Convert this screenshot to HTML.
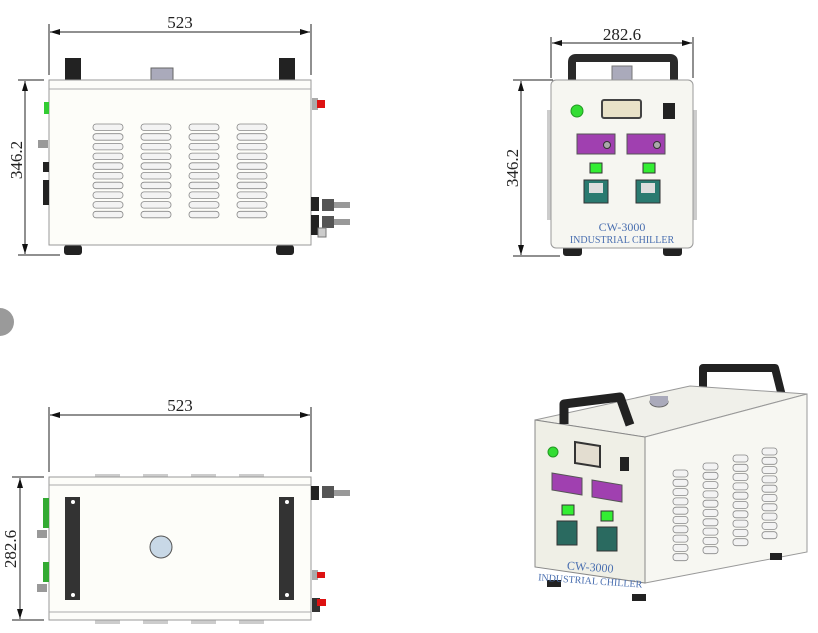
<!DOCTYPE html>
<html><head><meta charset="utf-8"><style>
html,body{margin:0;padding:0;background:#fff;width:818px;height:633px;overflow:hidden}
svg{display:block}
text{font-family:"Liberation Serif","Noto Serif CJK SC",serif}
</style></head><body>
<svg id="s" width="818" height="633" viewBox="0 0 818 633" xmlns="http://www.w3.org/2000/svg">
<defs>
<marker id="a" viewBox="0 0 10 6" refX="10" refY="3" markerWidth="10" markerHeight="6" orient="auto-start-reverse" markerUnits="userSpaceOnUse"><path d="M0,0L10,3L0,6z" fill="#111"/></marker>
</defs>
<g stroke="#222" stroke-width="1" fill="none">
<line x1="49" y1="24" x2="49" y2="75"/><line x1="311" y1="24" x2="311" y2="75"/>
<line x1="50" y1="32" x2="310" y2="32" marker-start="url(#a)" marker-end="url(#a)"/>
<line x1="18" y1="80" x2="44" y2="80"/><line x1="18" y1="255" x2="60" y2="255"/>
<line x1="25" y1="81" x2="25" y2="254" marker-start="url(#a)" marker-end="url(#a)"/>
<line x1="551" y1="37" x2="551" y2="78"/><line x1="693" y1="37" x2="693" y2="78"/>
<line x1="552" y1="43" x2="692" y2="43" marker-start="url(#a)" marker-end="url(#a)"/>
<line x1="513" y1="80" x2="553" y2="80"/><line x1="513" y1="256" x2="560" y2="256"/>
<line x1="521" y1="81" x2="521" y2="255" marker-start="url(#a)" marker-end="url(#a)"/>
<line x1="49" y1="407" x2="49" y2="472"/><line x1="311" y1="407" x2="311" y2="472"/>
<line x1="50" y1="415" x2="310" y2="415" marker-start="url(#a)" marker-end="url(#a)"/>
<line x1="12" y1="477" x2="44" y2="477"/><line x1="12" y1="620" x2="44" y2="620"/>
<line x1="20" y1="478" x2="20" y2="619" marker-start="url(#a)" marker-end="url(#a)"/>
</g>
<g font-size="17" fill="#222">
<text x="180" y="28" text-anchor="middle">523</text>
<text x="622" y="40" text-anchor="middle">282.6</text>
<text x="180" y="411" text-anchor="middle">523</text>
<text transform="translate(22,160) rotate(-90)" text-anchor="middle">346.2</text>
<text transform="translate(518,168) rotate(-90)" text-anchor="middle">346.2</text>
<text transform="translate(16,549) rotate(-90)" text-anchor="middle">282.6</text>
</g>
<circle cx="0" cy="322" r="14" fill="#9a9a9a"/>

<rect x="65" y="58" width="16" height="22" fill="#222"/><rect x="279" y="58" width="16" height="22" fill="#222"/>
<rect x="151" y="68" width="22" height="12" fill="#aab" stroke="#666"/>
<rect x="64" y="245" width="18" height="10" rx="3" fill="#222"/><rect x="276" y="245" width="18" height="10" rx="3" fill="#222"/>
<rect x="49" y="80" width="262" height="165" fill="#fdfdf9" stroke="#999"/>
<line x1="49" y1="89" x2="311" y2="89" stroke="#aaa"/>
<rect x="44" y="102" width="5" height="12" fill="#3c3"/><rect x="38" y="140" width="10" height="8" fill="#999"/>
<rect x="43" y="162" width="6" height="10" fill="#222"/><rect x="43" y="180" width="6" height="25" fill="#222"/>
<rect x="312" y="98" width="6" height="12" fill="#aaa"/><rect x="317" y="100" width="8" height="8" fill="#d11"/>
<rect x="311" y="197" width="8" height="14" fill="#222"/><rect x="322" y="199" width="12" height="12" fill="#555"/><rect x="334" y="202" width="16" height="6" fill="#999"/>
<rect x="311" y="215" width="8" height="20" fill="#222"/><rect x="322" y="216" width="12" height="12" fill="#555"/><rect x="334" y="219" width="16" height="6" fill="#999"/>
<rect x="318" y="228" width="8" height="9" fill="#ccc" stroke="#777"/>
<g id="v1"></g>

<path d="M572,82 V62 Q572,58 576,58 H670 Q674,58 674,62 V82" fill="none" stroke="#2a2a2a" stroke-width="8"/>
<rect x="612" y="66" width="20" height="14" fill="#aab" stroke="#777"/>
<rect x="563" y="246" width="19" height="10" rx="3" fill="#222"/><rect x="663" y="246" width="19" height="10" rx="3" fill="#222"/>
<rect x="547" y="110" width="4" height="110" fill="#ccc"/><rect x="693" y="110" width="4" height="110" fill="#ccc"/>
<rect x="551" y="80" width="142" height="168" rx="5" fill="#f6f6f1" stroke="#999"/>
<circle cx="577" cy="111" r="6" fill="#3d3" stroke="#292"/>
<rect x="602" y="100" width="39" height="18" rx="2" fill="#e9e2c8" stroke="#444" stroke-width="2"/>
<rect x="663" y="103" width="12" height="16" fill="#222"/>
<rect x="577" y="134" width="38" height="20" fill="#a040b0" stroke="#555"/><circle cx="607" cy="145" r="3.5" fill="#aaa" stroke="#333"/>
<rect x="627" y="134" width="38" height="20" fill="#a040b0" stroke="#555"/><circle cx="657" cy="145" r="3.5" fill="#aaa" stroke="#333"/>
<rect x="590" y="163" width="12" height="10" fill="#3e3" stroke="#333"/><rect x="643" y="163" width="12" height="10" fill="#3e3" stroke="#333"/>
<rect x="584" y="180" width="24" height="23" fill="#2a7a70" stroke="#333"/><rect x="589" y="183" width="14" height="10" fill="#ddd"/>
<rect x="636" y="180" width="24" height="23" fill="#2a7a70" stroke="#333"/><rect x="641" y="183" width="14" height="10" fill="#ddd"/>
<text x="622" y="231" text-anchor="middle" font-size="12" fill="#4a6fb0">CW-3000</text>
<text x="622" y="243" text-anchor="middle" font-size="10" fill="#4a6fb0">INDUSTRIAL CHILLER</text>

<rect x="95" y="474" width="25" height="4" fill="#ccc"/><rect x="143" y="474" width="25" height="4" fill="#ccc"/><rect x="191" y="474" width="25" height="4" fill="#ccc"/><rect x="239" y="474" width="25" height="4" fill="#ccc"/>
<rect x="95" y="620" width="25" height="4" fill="#ccc"/><rect x="143" y="620" width="25" height="4" fill="#ccc"/><rect x="191" y="620" width="25" height="4" fill="#ccc"/><rect x="239" y="620" width="25" height="4" fill="#ccc"/>
<rect x="49" y="477" width="262" height="143" fill="#fdfdf9" stroke="#999"/>
<line x1="49" y1="485" x2="311" y2="485" stroke="#aaa"/><line x1="49" y1="612" x2="311" y2="612" stroke="#aaa"/>
<rect x="65" y="497" width="15" height="103" fill="#333"/><circle cx="73" cy="502" r="2" fill="#fff"/><circle cx="73" cy="595" r="2" fill="#fff"/>
<rect x="279" y="497" width="15" height="103" fill="#333"/><circle cx="287" cy="502" r="2" fill="#fff"/><circle cx="287" cy="595" r="2" fill="#fff"/>
<circle cx="161" cy="547" r="11" fill="#c8d8e6" stroke="#555"/>
<rect x="43" y="498" width="6" height="30" fill="#3a3"/><rect x="37" y="530" width="10" height="8" fill="#999"/><rect x="43" y="562" width="6" height="20" fill="#3a3"/><rect x="37" y="584" width="10" height="8" fill="#999"/>
<rect x="311" y="486" width="8" height="14" fill="#222"/><rect x="322" y="486" width="12" height="12" fill="#555"/><rect x="334" y="490" width="16" height="6" fill="#999"/>
<rect x="312" y="570" width="6" height="10" fill="#aaa"/><rect x="317" y="572" width="8" height="6" fill="#d11"/>
<rect x="312" y="598" width="8" height="14" fill="#333"/><rect x="317" y="599" width="9" height="7" fill="#d11"/>

<path d="M703,398 V368 H775 L782,396" fill="none" stroke="#222" stroke-width="8" stroke-linejoin="round"/>
<polygon points="535,420 690,386 807,394 645,437" fill="#f0f0ea" stroke="#999"/>
<polygon points="645,437 807,394 807,552 645,583" fill="#f7f7f2" stroke="#999"/>
<polygon points="535,420 645,437 645,583 535,567" fill="#efefe6" stroke="#888"/>
<ellipse cx="659" cy="402" rx="9" ry="5" fill="#aab" stroke="#666"/><rect x="650" y="396" width="18" height="7" fill="#aab"/>
<path d="M564,424 V404 L620,397 L630,425" fill="none" stroke="#222" stroke-width="9" stroke-linejoin="round"/>
<rect x="547" y="580" width="14" height="7" fill="#222"/><rect x="632" y="594" width="14" height="7" fill="#222"/><rect x="770" y="553" width="12" height="7" fill="#222"/>
<circle cx="553" cy="452" r="5" fill="#3d3" stroke="#292"/>
<polygon points="575,442 600,446 600,467 575,463" fill="#e3ddd0" stroke="#333" stroke-width="2"/>
<rect x="620" y="457" width="9" height="14" fill="#222"/>
<polygon points="552,473 582,478 582,495 552,490" fill="#a040b0" stroke="#555"/>
<polygon points="592,480 622,485 622,502 592,497" fill="#a040b0" stroke="#555"/>
<rect x="562" y="505" width="12" height="10" fill="#3e3" stroke="#333"/><rect x="601" y="511" width="12" height="10" fill="#3e3" stroke="#333"/>
<rect x="557" y="521" width="20" height="24" fill="#2a6a60" stroke="#333"/><rect x="597" y="527" width="20" height="24" fill="#2a6a60" stroke="#333"/>
<text x="590" y="571" text-anchor="middle" font-size="12" fill="#4a6fb0" transform="rotate(4 590 571)">CW-3000</text>
<text x="590" y="584" text-anchor="middle" font-size="10" fill="#4a6fb0" transform="rotate(4 590 584)">INDUSTRIAL CHILLER</text>
<g id="v2"></g>
</svg>
<script>
var ns="http://www.w3.org/2000/svg";
function r(g,x,y,w,h){var e=document.createElementNS(ns,"rect");e.setAttribute("x",x);e.setAttribute("y",y);e.setAttribute("width",w);e.setAttribute("height",h);e.setAttribute("rx",3);e.setAttribute("fill","#f3f3f3");e.setAttribute("stroke","#888");e.setAttribute("stroke-width","0.8");g.appendChild(e);}
var g1=document.getElementById("v1");
[93,141,189,237].forEach(function(x){for(var i=0;i<10;i++)r(g1,x,124+i*9.7,30,6.5);});
var g2=document.getElementById("v2");
[[673,470],[703,463],[733,455],[762,448]].forEach(function(p){for(var i=0;i<10;i++)r(g2,p[0],p[1]+i*9.3,15,7);});
</script>
</body></html>
